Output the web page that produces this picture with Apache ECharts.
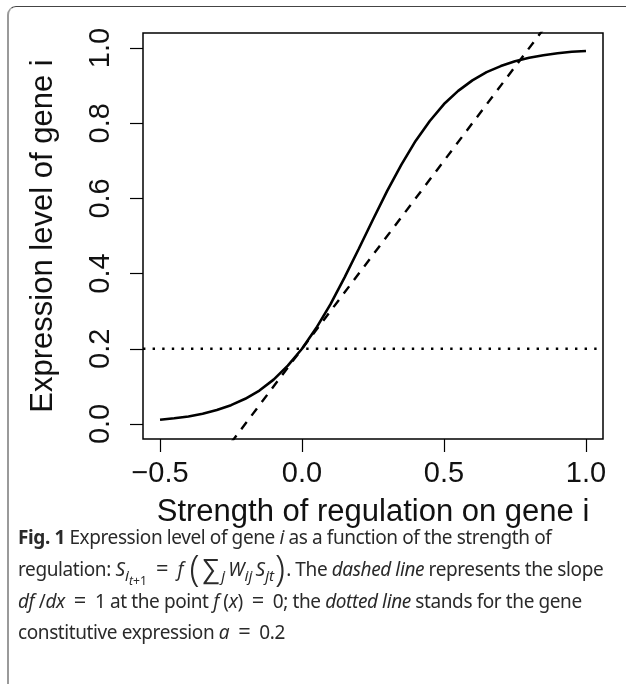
<!DOCTYPE html>
<html>
<head>
<meta charset="utf-8">
<script src="https://cdn.jsdelivr.net/npm/echarts@6/dist/echarts.min.js"></script>
<style>
html, body { margin: 0; padding: 0; background: #fff; overflow: hidden; }
#frame {
    position: absolute; left: 7px; top: 6px; width: 700px; height: 800px;
    border-top: 1px solid #444; border-left: 2px solid #9a9a9a;
    border-top-left-radius: 9px;
}
#myChart { position: absolute; left: 0; top: 0; width: 626px; height: 684px; }
#caption {
    position: absolute; left: 18px; top: 0; width: 606px;
    font-family: "Noto Sans", "Open Sans", sans-serif; font-size: 19px; color: #2a2a2a;
    letter-spacing: -0.4px;
}
#caption div { position: absolute; left: 0; white-space: nowrap; line-height: 24px; }
#caption sub { font-size: 75%; line-height: 0; vertical-align: -0.3em; }
.math { letter-spacing: 0; }
.math sub { font-size: 80% !important; }
.big { font-size: 190%; line-height: 0; vertical-align: -5px; font-weight: 300; margin: 0 1px; }
.sum { font-size: 140%; line-height: 0; vertical-align: -2px; margin: 0 2px 0 2px; }
.eq { margin: 0 9px; font-size: 115%; line-height: 0; }
</style>
</head>
<body>
<div id="frame"></div>
<div id="myChart"></div>
<div id="caption">
    <div style="top:525px"><b>Fig. 1</b> Expression level of gene <i>i</i> as a function of the strength of</div>
    <div style="top:557px">regulation: <span class="math"><i>S</i><sub><i>i</i><sub><i>t</i>+1</sub></sub><span class="eq">=</span><i>f</i>&nbsp;<span class="big">(</span><span class="sum">∑</span><sub><i>j</i></sub>&thinsp;<i>W</i><sub><i>ij</i></sub>&thinsp;<i>S</i><sub><i>jt</i></sub><span class="big">)</span></span>. The <i>dashed line</i> represents the slope</div>
    <div style="top:589px"><i>df</i> /<i>dx</i><span class="eq">=</span>1 at the point <i>f</i> (<i>x</i>)<span class="eq">=</span>0; the <i>dotted line</i> stands for the gene</div>
    <div style="top:620px">constitutive expression <i>a</i><span class="eq">=</span>0.2</div>
</div>
<script>
// sigmoid curve
let xData = [-0.5, -0.45, -0.4, -0.35, -0.3, -0.25, -0.2, -0.15, -0.1, -0.05,
    0, 0.05, 0.1, 0.15, 0.2, 0.25, 0.3, 0.35, 0.4, 0.45,
    0.5, 0.55, 0.6, 0.65, 0.7, 0.75, 0.8, 0.85, 0.9, 0.95, 1.0]
let yData = [0.011, 0.015, 0.020, 0.027, 0.037, 0.050, 0.067, 0.089, 0.118, 0.155,
    0.200, 0.255, 0.318, 0.390, 0.466, 0.544, 0.620, 0.690, 0.753, 0.806,
    0.851, 0.886, 0.914, 0.936, 0.952, 0.965, 0.974, 0.981, 0.986, 0.990, 0.992]
// dashed slope line and dotted constitutive level
let slopeX = [-0.25, 0.85]
let slopeY = [-0.05, 1.05]
let levelX = [-0.56, 1.06]
let levelY = [0.2, 0.2]
let xTicks = [-0.5, 0, 0.5, 1.0]
let yTicks = [0, 0.2, 0.4, 0.6, 0.8, 1.0]

let zip = (a, b) => a.map((v, i) => [v, b[i]])
let fmt = v => v.toFixed(1).replace('-', '\u2212')

let myChart = echarts.init(document.getElementById('myChart'))
let font = 'Liberation Sans'
let option = {
    animation: false,
    grid: {
        left: 143, top: 33, width: 460, height: 406,
        show: true, borderColor: '#000', borderWidth: 1.5,
        backgroundColor: 'transparent'
    },
    xAxis: {
        type: 'value', min: -0.56, max: 1.06,
        name: 'Strength of regulation on gene i',
        nameLocation: 'middle', nameGap: 58,
        nameTextStyle: { color: '#111', fontSize: 31, fontFamily: font },
        splitLine: { show: false },
        axisLine: { show: false, onZero: false },
        axisTick: { show: true, length: 13, customValues: xTicks, lineStyle: { color: '#000', width: 1.2 } },
        axisLabel: { customValues: xTicks, formatter: fmt, margin: 20, color: '#111', fontSize: 29, fontFamily: font }
    },
    yAxis: {
        type: 'value', min: -0.04, max: 1.04,
        name: 'Expression level of gene i',
        nameLocation: 'middle', nameGap: 84, nameRotate: 90,
        nameTextStyle: { color: '#111', fontSize: 31, fontFamily: font },
        splitLine: { show: false },
        axisLine: { show: false, onZero: false },
        axisTick: { show: true, length: 13, customValues: yTicks, lineStyle: { color: '#000', width: 1.2 } },
        axisLabel: { customValues: yTicks, formatter: fmt, rotate: 90, margin: 28, color: '#111', fontSize: 29, fontFamily: font }
    },
    series: [
        {
            name: 'f(x)', type: 'line', data: zip(xData, yData),
            showSymbol: false, smooth: false,
            lineStyle: { color: '#000', width: 2.6 }
        },
        {
            name: 'slope', type: 'line', data: zip(slopeX, slopeY),
            showSymbol: false, clip: true,
            lineStyle: { color: '#000', width: 2.4, type: [9, 8] }
        },
        {
            name: 'a', type: 'line', data: zip(levelX, levelY),
            showSymbol: false, clip: true,
            lineStyle: { color: '#000', width: 2.4, type: [2.4, 7.2] }
        }
    ]
}
myChart.setOption(option)

window.addEventListener('resize', () => {
    myChart.resize()
})
</script>
</body>
</html>
